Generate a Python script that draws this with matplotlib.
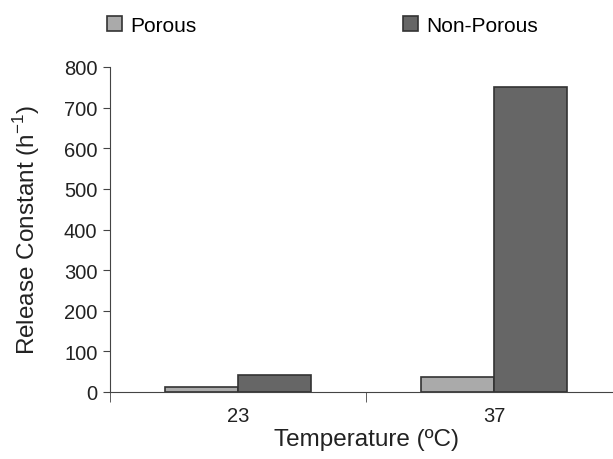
import matplotlib.pyplot as plt
import numpy as np

plt.rcParams['font.family'] = ['Liberation Sans', 'DejaVu Sans']

temps = ['23', '37']
porous = [12, 38]
non_porous = [41, 750]

fig = plt.figure(figsize=(6.13, 4.6), dpi=100)
ax = fig.add_axes([110 / 613, 1 - 393 / 460, 512 / 613, 325 / 460])

x = np.arange(len(temps))
w = 0.285
ax.bar(x - w / 2, porous, w, color='#aaaaaa', edgecolor='#333333', linewidth=1.2, label='Porous')
ax.bar(x + w / 2, non_porous, w, color='#666666', edgecolor='#333333', linewidth=1.2, label='Non-Porous')

ax.set_xlim(-0.5, 1.5)
ax.set_ylim(0, 800)
ax.set_yticks(range(0, 801, 100))
ax.set_xticks(x)
ax.set_xticklabels(temps)
ax.set_xticks([-0.5, 0.5, 1.5], minor=True)
ax.tick_params(axis='x', which='major', length=0, pad=10, labelsize=14.5, colors='#222222')
ax.tick_params(axis='x', which='minor', length=7, color='#444444')
ax.tick_params(axis='y', length=5, pad=4, labelsize=14.5, color='#444444', labelcolor='#222222')

for s in ['top', 'right']:
    ax.spines[s].set_visible(False)
for s in ['left', 'bottom']:
    ax.spines[s].set_color('#444444')

ax.set_ylabel('Release Constant (h$^{\\mathregular{-1}}$)', fontsize=17.5, color='#222222', labelpad=16)
ax.set_xlabel('Temperature (ºC)', fontsize=17.5, color='#222222', labelpad=2)

fig.legend(loc='upper left', bbox_to_anchor=(90 / 613, 1.0), ncol=2, frameon=False,
           fontsize=15, handlelength=0.72, handleheight=0.72, handletextpad=0.4,
           columnspacing=9.9, borderaxespad=0.4)

fig.savefig('out.png', dpi=100)
